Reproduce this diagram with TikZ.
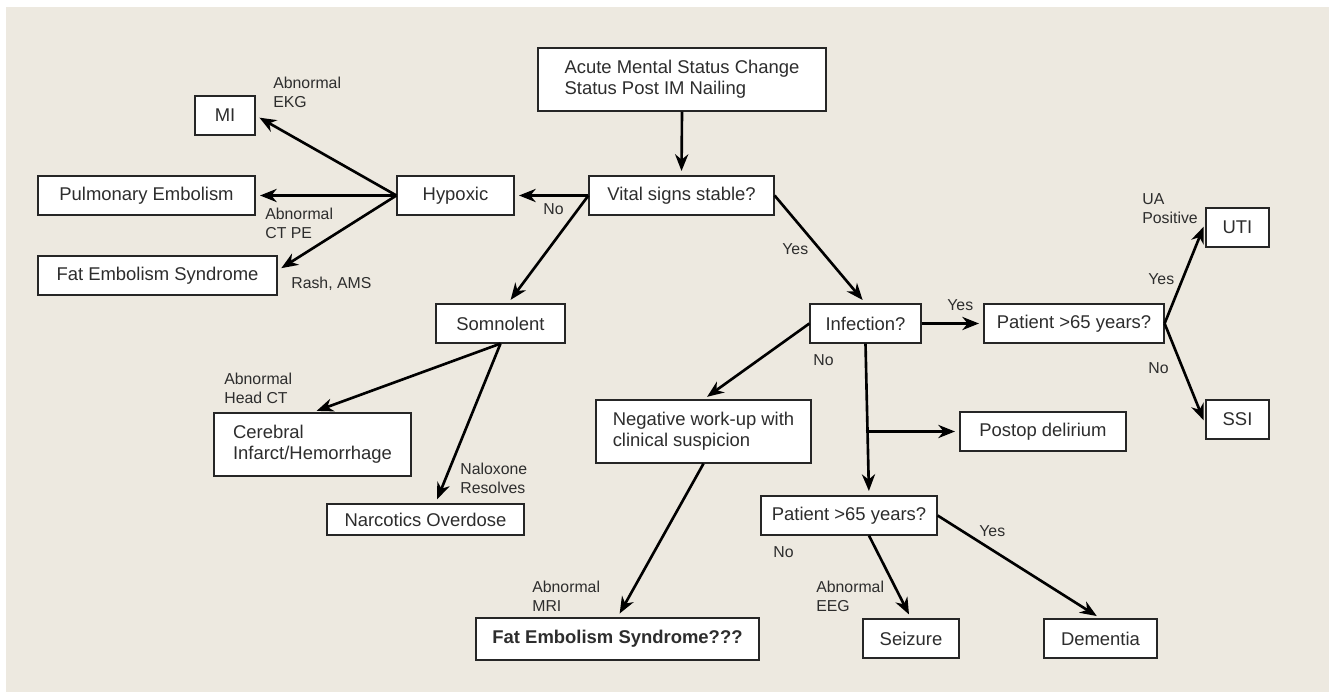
\documentclass[tikz,border=0pt]{standalone}
\usepackage{fontspec}
\setmainfont{Liberation Sans}
\usepackage{tikz}
\usetikzlibrary{arrows.meta,positioning}

\definecolor{paper}{RGB}{237,233,224}
\definecolor{ink}{RGB}{45,45,45}

\tikzset{
  box/.style={rectangle,draw=black!85,line width=0.7pt,fill=white,text=ink,
    font=\fontsize{10.5}{11.8}\selectfont,inner sep=0pt,minimum height=0.78cm},
  tbox/.style={box,align=left,minimum height=1.26cm},
  lab/.style={text=ink,font=\fontsize{9}{10.8}\selectfont,align=left,inner sep=0pt,anchor=north west},
  flow/.style={-{Stealth[length=9.5pt,width=7.5pt,inset=3pt]},line width=1.5pt,shorten >=2.5pt},
}

\begin{document}
\begin{tikzpicture}[x=0.02cm,y=-0.02cm]
    % Hintergrund
    \useasboundingbox (0,0) rectangle (1329,692);
    \fill[paper] (6,7) rectangle (1329,692);

    % Kaesten
    \node[tbox,minimum width=5.76cm] (start) at (682,79.5) {Acute Mental Status Change\\Status Post IM Nailing};
    \node[box,minimum width=3.7cm] (vital) at (681.5,195.5) {Vital signs stable?};
    \node[box,minimum width=2.34cm] (hypoxic) at (455.5,195.5) {Hypoxic};
    \node[box,minimum width=1.2cm] (mi) at (225,115.5) {MI};
    \node[box,minimum width=4.34cm] (pe) at (146.5,195.5) {Pulmonary Embolism};
    \node[box,minimum width=4.78cm] (fes) at (157.5,275.5) {Fat Embolism Syndrome};
    \node[box,minimum width=2.58cm] (somno) at (500.5,323.5) {Somnolent};
    \node[tbox,minimum width=3.94cm] (cereb) at (312.5,444.5) {Cerebral\\Infarct/Hemorrhage};
    \node[box,minimum width=3.94cm,minimum height=0.62cm] (narc) at (425.5,519.5) {Narcotics Overdose};
    \node[box,minimum width=5.66cm,minimum height=0.84cm,font=\fontsize{10.5}{11.8}\selectfont\bfseries] (fesq) at (617.5,639) {Fat Embolism Syndrome???};
    \node[tbox,minimum width=4.3cm] (negwu) at (703.5,431.5) {Negative work-up with\\clinical suspicion};
    \node[box,minimum width=2.22cm] (infect) at (865.5,323.5) {Infection?};
    \node[box,minimum width=3.6cm] (agea) at (1074,323.5) {Patient >65 years?};
    \node[box,minimum width=1.26cm] (uti) at (1237.5,227.5) {UTI};
    \node[box,minimum width=1.26cm] (ssi) at (1237.5,419.5) {SSI};
    \node[box,minimum width=3.32cm] (postop) at (1043,431.5) {Postop delirium};
    \node[box,minimum width=3.52cm] (ageb) at (849,515.5) {Patient >65 years?};
    \node[box,minimum width=1.92cm] (seiz) at (911,638.5) {Seizure};
    \node[box,minimum width=2.26cm] (dem) at (1100.5,638.5) {Dementia};

    % Pfeile
    \draw[flow] (start.south) -- (vital.north);
    \draw[flow] (vital.west) -- (hypoxic.east);
    \draw[flow] (vital.west) -- ([xshift=1.5mm]somno.north);
    \draw[flow] (vital.east) -- (infect.north);
    \draw[flow] (hypoxic.west) -- (mi.east);
    \draw[flow] (hypoxic.west) -- (pe.east);
    \draw[flow] (hypoxic.west) -- ([yshift=1mm]fes.east);
    \draw[flow] (somno.south) -- (cereb.north);
    \draw[flow] (somno.south) -- ([xshift=2mm]narc.north);
    \draw[flow] (infect.east) -- (agea.west);
    \draw[flow] (infect.west) -- (negwu.north);
    \draw[flow] (infect.south) -- ([xshift=4mm]ageb.north);
    \draw[flow] (infect.south |- postop.west) -- (postop.west);
    \draw[flow] (agea.east) -- ([yshift=1mm]uti.west);
    \draw[flow] (agea.east) -- ([yshift=-1mm]ssi.west);
    \draw[flow] (negwu.south) -- (fesq.north);
    \draw[flow] ([xshift=4mm]ageb.south) -- (seiz.north);
    \draw[flow] (ageb.east) -- (dem.north);

    % Beschriftungen
    \node[lab] (lekg) at (273,77) {Abnormal\\EKG};
    \node[lab] (lctpe) at (265,208) {Abnormal\\CT PE};
    \node[lab] (lrash) at (291,277) {Rash, AMS};
    \node[lab] (lno1) at (543,203) {No};
    \node[lab] (lyes1) at (782,243) {Yes};
    \node[lab] (lhead) at (224,373) {Abnormal\\Head CT};
    \node[lab] (lnalox) at (460,463) {Naloxone\\Resolves};
    \node[lab] (lmri) at (532,581) {Abnormal\\MRI};
    \node[lab] (lno2) at (813,354) {No};
    \node[lab] (lyes2) at (947,299) {Yes};
    \node[lab] (lua) at (1142,193) {UA\\Positive};
    \node[lab] (lyes3) at (1148,273) {Yes};
    \node[lab] (lno3) at (1148,362) {No};
    \node[lab] (lno4) at (773,546) {No};
    \node[lab] (leeg) at (816,581) {Abnormal\\EEG};
    \node[lab] (lyes4) at (979,525) {Yes};
\end{tikzpicture}
\end{document}
